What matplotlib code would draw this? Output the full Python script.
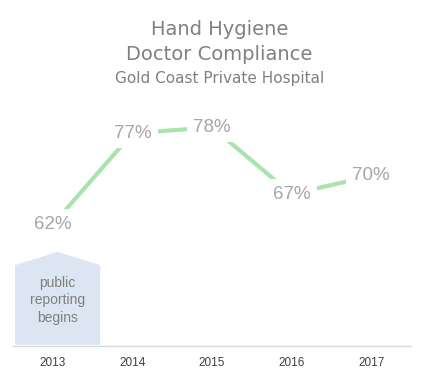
import matplotlib.pyplot as plt
from matplotlib.patches import Polygon

years = ['2013', '2014', '2015', '2016', '2017']
compliance = [62, 77, 78, 67, 70]
note_lines = ['public', 'reporting', 'begins']

x = list(range(len(years)))

fig = plt.figure(figsize=(4.24, 3.78), dpi=100)
ax = fig.add_axes([0.0307, 0.0847, 0.9387, 0.651])
ax.set_xlim(-0.5, len(years) - 0.5)
ax.set_ylim(42, 82.5)

# 선 + 값 라벨 (라벨 뒤는 흰 박스로 선을 가림)
ax.plot(x, compliance, color='#a8e4ac', lw=3, solid_capstyle='butt', zorder=1)
for xi, v in zip(x, compliance):
    ax.text(xi, v, f'{v}%', ha='center', va='center', fontsize=13.5,
            family='Liberation Sans', color='#a6a6a6', zorder=2,
            bbox=dict(boxstyle='square,pad=0.35', fc='white', ec='none'))

# 'public reporting begins' 오각형 표시
x0 = x[0] + 0.06
hw = 0.535
poly = Polygon([(x0 - hw, 42.2), (x0 - hw, 55.3), (x0, 57.5),
                (x0 + hw, 55.3), (x0 + hw, 42.2)],
               closed=True, fc='#dce6f2', ec='none', zorder=0)
ax.add_patch(poly)
ax.text(x0, 49.5, '\n'.join(note_lines), ha='center', va='center', fontsize=10,
        family='Liberation Sans', color='#7f7f7f', linespacing=1.3)

ax.set_xticks(x)
ax.set_xticklabels(years, family='Liberation Sans', fontsize=8.5, color='#404040')
ax.tick_params(axis='x', length=0, pad=8)
ax.set_yticks([])
for s in ['top', 'right', 'left']:
    ax.spines[s].set_visible(False)
ax.spines['bottom'].set_color('#d9d9d9')
ax.spines['bottom'].set_linewidth(1)

fig.text(0.517, 0.921, 'Hand Hygiene', ha='center', va='center', fontsize=14, color='#808080')
fig.text(0.517, 0.857, 'Doctor Compliance', ha='center', va='center', fontsize=14, color='#808080')
fig.text(0.517, 0.793, 'Gold Coast Private Hospital', ha='center', va='center', fontsize=11, color='#808080')

fig.savefig('out.png', dpi=100)
